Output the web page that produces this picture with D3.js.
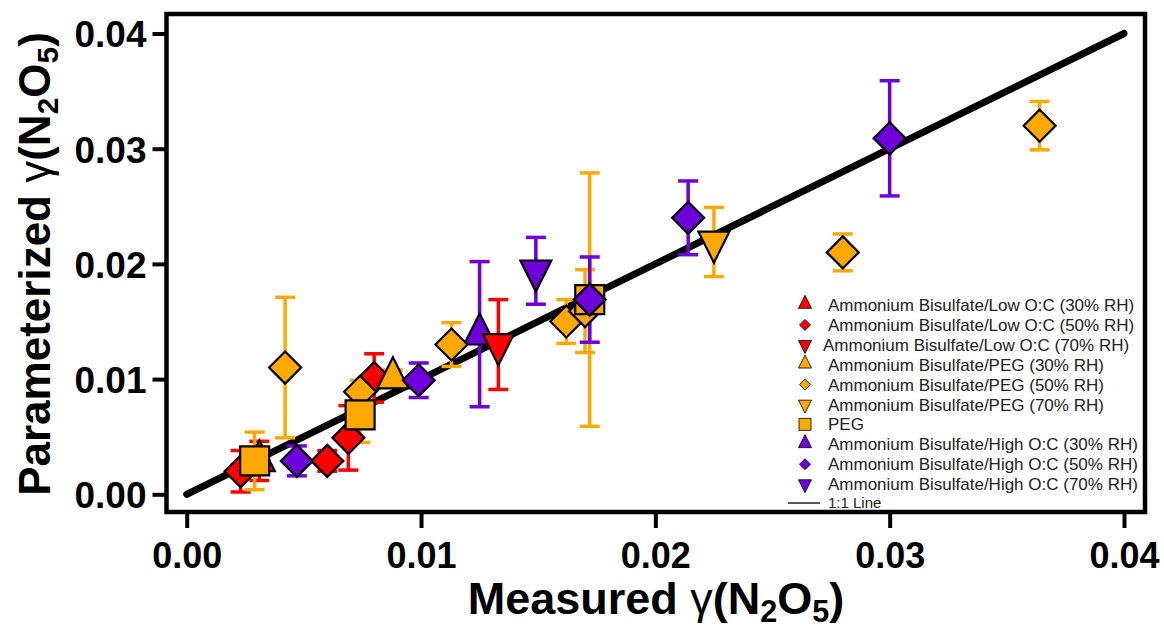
<!DOCTYPE html>
<html>
<head>
<meta charset="utf-8">
<script src="https://cdn.jsdelivr.net/npm/d3@7"></script>
<style>
  body { margin: 0; background: #fff; }
  svg { display: block; }
  text { font-family: "Liberation Sans", Arial, sans-serif; }
</style>
</head>
<body>
<svg id="chart" width="1164" height="628"></svg>
<script>
// Each point: [measured, parameterized, error]
var lowOC30 = [[0.0031, 0.0029, 0.0017]];
var lowOC50 = [[0.0023, 0.0020, 0.0018], [0.0060, 0.0029, 0.0009], [0.0069, 0.0049, 0.0028], [0.0080, 0.0101, 0.0021]];
var lowOC70 = [[0.0133, 0.0130, 0.0039]];
var peg30 = [[0.0088, 0.0101, 0.0007]];
var peg50 = [[0.0042, 0.0110, 0.0061], [0.0074, 0.0089, 0.0010], [0.0113, 0.0130, 0.0019],
             [0.0162, 0.0150, 0.0019], [0.0170, 0.0159, 0.0036], [0.0280, 0.0210, 0.0016], [0.0364, 0.0320, 0.0021]];
var peg70 = [[0.0225, 0.0219, 0.0030]];
var pegOnly = [[0.0029, 0.0029, 0.0025], [0.0074, 0.0069, 0.0024], [0.0172, 0.0169, 0.0110]];
var highOC30 = [[0.0125, 0.0139, 0.0063]];
var highOC50 = [[0.0047, 0.0029, 0.0013], [0.0099, 0.0099, 0.0015], [0.0172, 0.0169, 0.0037],
                [0.0214, 0.0240, 0.0032], [0.0300, 0.0309, 0.0050]];
var highOC70 = [[0.0149, 0.0194, 0.0029]];

var seriesLabels = [
    'Ammonium Bisulfate/Low O:C (30% RH)',
    'Ammonium Bisulfate/Low O:C (50% RH)',
    'Ammonium Bisulfate/Low O:C (70% RH)',
    'Ammonium Bisulfate/PEG (30% RH)',
    'Ammonium Bisulfate/PEG (50% RH)',
    'Ammonium Bisulfate/PEG (70% RH)',
    'PEG',
    'Ammonium Bisulfate/High O:C (30% RH)',
    'Ammonium Bisulfate/High O:C (50% RH)',
    'Ammonium Bisulfate/High O:C (70% RH)'
];
var tickValues = [0, 0.01, 0.02, 0.03, 0.04];
var oneToOne = [[0, 0], [0.04, 0.04]];

var red = '#ff0000', orange = '#ffa800', purple = '#6e00dc';

// Series table used for drawing (colors/shapes are styling only)
var series = [
    { label: seriesLabels[0], data: lowOC30, color: red, shape: 'up' },
    { label: seriesLabels[1], data: lowOC50, color: red, shape: 'diamond' },
    { label: seriesLabels[2], data: lowOC70, color: red, shape: 'down' },
    { label: seriesLabels[3], data: peg30, color: orange, shape: 'up' },
    { label: seriesLabels[4], data: peg50, color: orange, shape: 'diamond' },
    { label: seriesLabels[5], data: peg70, color: orange, shape: 'down' },
    { label: seriesLabels[6], data: pegOnly, color: orange, shape: 'square' },
    { label: seriesLabels[7], data: highOC30, color: purple, shape: 'up' },
    { label: seriesLabels[8], data: highOC50, color: purple, shape: 'diamond' },
    { label: seriesLabels[9], data: highOC70, color: purple, shape: 'down' }
];
// order the markers are stacked in
var drawOrder = [7, 0, 1, 2, 3, 4, 5, 6, 8, 9];
// full marker size in px, per shape: [plot, legend]
var markerSize = { up: [31, 13], down: [31, 13], diamond: [32, 11], square: [29, 12] };

var svg = d3.select('#chart');

// Plot frame and scales
var frame = { left: 166.5, top: 14, right: 1145, bottom: 512 };
var x = d3.scaleLinear().domain([0, 0.04]).range([186.7, 1124]);
var y = d3.scaleLinear().domain([0, 0.04]).range([494.3, 33.5]);

/* Build a marker path of full size s, centred on its centroid */
function markerPath(shape, s) {
    var h = s, w = s, r = s / 2;
    if (shape == 'up') {
        return 'M0,' + (-2 * h / 3) + 'L' + (w / 2) + ',' + (h / 3) + 'L' + (-w / 2) + ',' + (h / 3) + 'Z';
    } else if (shape == 'down') {
        return 'M0,' + (2 * h / 3) + 'L' + (w / 2) + ',' + (-h / 3) + 'L' + (-w / 2) + ',' + (-h / 3) + 'Z';
    } else if (shape == 'diamond') {
        return 'M0,' + (-r) + 'L' + r + ',0L0,' + r + 'L' + (-r) + ',0Z';
    }
    return 'M' + (-r) + ',' + (-r) + 'H' + r + 'V' + r + 'H' + (-r) + 'Z';
}

// 1:1 line
var line = d3.line().x(function(d) { return x(d[0]); }).y(function(d) { return y(d[1]); });
svg.append('path')
    .datum(oneToOne)
    .attr('d', line)
    .attr('fill', 'none')
    .attr('stroke', '#000')
    .attr('stroke-width', 7)
    .attr('stroke-linecap', 'round');

// Error bars
var errGroup = svg.append('g');
series.forEach(function(s) {
    var g = errGroup.selectAll(null)
        .data(s.data)
        .enter()
        .append('g')
        .attr('stroke', s.color)
        .attr('stroke-width', 3.5);
    g.append('line')
        .attr('x1', function(d) { return x(d[0]); })
        .attr('x2', function(d) { return x(d[0]); })
        .attr('y1', function(d) { return y(d[1] - d[2]); })
        .attr('y2', function(d) { return y(d[1] + d[2]); });
    [-1, 1].forEach(function(sign) {
        g.append('line')
            .attr('x1', function(d) { return x(d[0]) - 10; })
            .attr('x2', function(d) { return x(d[0]) + 10; })
            .attr('y1', function(d) { return y(d[1] + sign * d[2]); })
            .attr('y2', function(d) { return y(d[1] + sign * d[2]); });
    });
});

// Markers
var markGroup = svg.append('g');
drawOrder.forEach(function(i) {
    var s = series[i];
    markGroup.selectAll(null)
        .data(s.data)
        .enter()
        .append('path')
        .attr('d', markerPath(s.shape, markerSize[s.shape][0]))
        .attr('transform', function(d) { return 'translate(' + x(d[0]) + ',' + y(d[1]) + ')'; })
        .attr('fill', s.color)
        .attr('stroke', '#000')
        .attr('stroke-width', 2.2);
});

// Legend
var legend = svg.append('g').attr('transform', 'translate(0,305)');
var rowH = 19.9;
legend.selectAll('path.key')
    .data(series)
    .enter()
    .append('path')
    .classed('key', true)
    .attr('d', function(d) { return markerPath(d.shape, markerSize[d.shape][1]); })
    .attr('transform', function(d, i) { return 'translate(805,' + (i * rowH + (d.shape == 'up' ? -1 : 0)) + ')'; })
    .attr('fill', function(d) { return d.color; })
    .attr('stroke', '#000')
    .attr('stroke-width', 0.8);
legend.selectAll('text.key')
    .data(series)
    .enter()
    .append('text')
    .classed('key', true)
    .text(function(d) { return d.label; })
    .attr('x', function(d, i) { return i == 2 ? 823 : 828; })
    .attr('y', function(d, i) { return i * rowH + 6; })
    .attr('font-size', '17px')
    .attr('fill', '#222');
legend.append('line')
    .attr('x1', 788).attr('x2', 820)
    .attr('y1', 10 * rowH - 1).attr('y2', 10 * rowH - 1)
    .attr('stroke', '#222').attr('stroke-width', 1.5);
legend.append('text')
    .text('1:1 Line')
    .attr('x', 828).attr('y', 10 * rowH + 4)
    .attr('font-size', '15px')
    .attr('fill', '#222');

// Frame
svg.append('rect')
    .attr('x', frame.left).attr('y', frame.top)
    .attr('width', frame.right - frame.left)
    .attr('height', frame.bottom - frame.top)
    .attr('fill', 'none')
    .attr('stroke', '#000')
    .attr('stroke-width', 4.5);

// Axes
var fmt = d3.format('.2f');
var xAxis = svg.append('g')
    .attr('transform', 'translate(0,' + (frame.bottom + 2) + ')')
    .call(d3.axisBottom(x).tickValues(tickValues).tickFormat(fmt).tickSize(14).tickSizeOuter(0));
xAxis.select('.domain').remove();
xAxis.selectAll('line').attr('stroke', '#000').attr('stroke-width', 4);
xAxis.selectAll('text')
    .attr('y', 54).attr('dy', 0)
    .attr('font-size', '36px')
    .attr('font-weight', 'bold')
    .attr('font-family', '"Liberation Sans", Arial, sans-serif')
    .attr('fill', '#000');

var yAxis = svg.append('g')
    .attr('transform', 'translate(' + (frame.left - 1) + ',0)')
    .call(d3.axisLeft(y).tickValues(tickValues).tickFormat(fmt).tickSize(13).tickSizeOuter(0));
yAxis.select('.domain').remove();
yAxis.selectAll('line').attr('stroke', '#000').attr('stroke-width', 4);
yAxis.selectAll('text')
    .attr('x', -19).attr('dy', '0.36em')
    .attr('font-size', '37px')
    .attr('font-weight', 'bold')
    .attr('font-family', '"Liberation Sans", Arial, sans-serif')
    .attr('fill', '#000');

/* Writes "<prefix> γ(N2O5)" with subscripts into a text element */
function gammaTitle(t, prefix, size) {
    var sub = size * 0.68, drop = size * 0.18;
    t.append('tspan').text(prefix + ' ');
    t.append('tspan').text('γ').attr('font-weight', 'normal');
    t.append('tspan').text('(N');
    t.append('tspan').text('2').attr('font-size', sub + 'px').attr('dy', drop);
    t.append('tspan').text('O').attr('dy', -drop);
    t.append('tspan').text('5').attr('font-size', sub + 'px').attr('dy', drop);
    t.append('tspan').text(')').attr('dy', -drop);
}

var xTitle = svg.append('text')
    .attr('x', 656).attr('y', 614)
    .attr('text-anchor', 'middle')
    .attr('font-size', '45px')
    .attr('font-weight', 'bold')
    .attr('fill', '#000');
gammaTitle(xTitle, 'Measured', 45);

var yTitle = svg.append('text')
    .attr('transform', 'translate(50,264) rotate(-90)')
    .attr('text-anchor', 'middle')
    .attr('font-size', '44px')
    .attr('font-weight', 'bold')
    .attr('fill', '#000');
gammaTitle(yTitle, 'Parameterized', 44);
</script>
</body>
</html>
